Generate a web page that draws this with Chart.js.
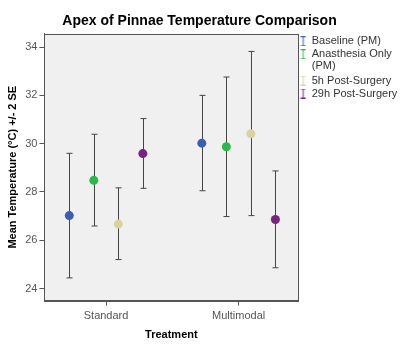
<!DOCTYPE html>
<html>
<head>
<meta charset="utf-8">
<script src="https://cdn.jsdelivr.net/npm/chart.js@4/dist/chart.umd.min.js"></script>
<style>
  body { margin: 0; background: #fff; }
  #wrap { width: 400px; height: 362px; }
</style>
</head>
<body>
<div id="wrap"><canvas id="grafica"></canvas></div>
<script>
const categories = ['Standard', 'Multimodal'];
const seriesNames = ['Baseline (PM)', ['Anasthesia Only', '(PM)'], '5h Post-Surgery', '29h Post-Surgery'];
const seriesColors = ['#3d5cb8', '#2db84a', '#d8d39b', '#7a2480'];
// mean and +/- 2 SE limits, one value per category
const means = [[27.02, 30.02], [28.48, 29.87], [26.67, 30.41], [29.59, 26.86]];
const upper = [[29.60, 32.00], [30.39, 32.76], [28.17, 33.82], [31.04, 28.87]];
const lower = [[24.44, 28.05], [26.59, 26.98], [25.20, 27.02], [28.15, 24.86]];
const yTicks = [24, 26, 28, 30, 32, 34];

const spread = 0.185;

function makeIcon(color) {
    const c = document.createElement('canvas');
    c.width = 6; c.height = 10;
    const g = c.getContext('2d');
    g.strokeStyle = color;
    g.lineWidth = 1;
    g.beginPath();
    g.moveTo(0.5, 0.5); g.lineTo(5.5, 0.5);
    g.moveTo(3, 0.5); g.lineTo(3, 9.5);
    g.moveTo(0.5, 9.5); g.lineTo(5.5, 9.5);
    g.stroke();
    return c;
}
const icons = seriesColors.map(makeIcon);

const datasets = seriesNames.map(function(name, s) {
    return {
        label: name,
        data: categories.map(function(cat, i) {
            return { x: i + 1 + (s - 1.5) * spread, y: means[s][i], hi: upper[s][i], lo: lower[s][i] };
        }),
        backgroundColor: seriesColors[s],
        borderColor: seriesColors[s],
        pointRadius: 4.5,
        pointHoverRadius: 4.5,
        borderWidth: 0,
        showLine: false
    };
});

const plotFrame = {
    id: 'plotFrame',
    beforeDatasetsDraw(chart) {
        const ctx = chart.ctx;
        const xs = chart.scales.x, ys = chart.scales.y;
        ctx.save();
        ctx.strokeStyle = '#444';
        ctx.lineWidth = 1;
        chart.data.datasets.forEach(function(ds) {
            ds.data.forEach(function(p) {
                const px = Math.round(xs.getPixelForValue(p.x)) + 0.5;
                const t = ys.getPixelForValue(p.hi), b = ys.getPixelForValue(p.lo);
                ctx.beginPath();
                ctx.moveTo(px, t); ctx.lineTo(px, b);
                ctx.moveTo(px - 3, t); ctx.lineTo(px + 3, t);
                ctx.moveTo(px - 3, b); ctx.lineTo(px + 3, b);
                ctx.stroke();
            });
        });
        ctx.restore();
    },
    beforeDraw(chart) {
        const a = chart.chartArea, ctx = chart.ctx;
        ctx.save();
        ctx.fillStyle = '#f0f0f0';
        ctx.fillRect(a.left, a.top, a.right - a.left, a.bottom - a.top);
        ctx.restore();
    },
    afterDraw(chart) {
        const a = chart.chartArea, ctx = chart.ctx;
        ctx.save();
        ctx.strokeStyle = '#555';
        ctx.lineWidth = 1;
        ctx.strokeRect(Math.round(a.left) + 0.5, Math.round(a.top) + 0.5, Math.round(a.right - a.left), Math.round(a.bottom - a.top));
        ctx.restore();
    }
};

const ctx = document.getElementById('grafica').getContext('2d');
const ch = new Chart(ctx, {
    type: 'scatter',
    data: { datasets: datasets },
    plugins: [plotFrame],
    options: {
        responsive: true,
        maintainAspectRatio: false,
        animation: false,
        layout: { padding: { top: 3, right: 3, bottom: 16, left: 2 } },
        plugins: {
            title: {
                display: true,
                text: 'Apex of Pinnae Temperature Comparison',
                color: '#000',
                font: { family: 'Liberation Sans', size: 14, weight: 'bold' },
                padding: { top: 10, bottom: 4 }
            },
            legend: {
                position: 'right',
                align: 'start',
                fullSize: false,
                labels: {
                    usePointStyle: true,
                    boxWidth: 6,
                    padding: 2,
                    color: '#333',
                    font: { family: 'Liberation Sans', size: 11, lineHeight: 1.1 },
                    generateLabels: function(chart) {
                        return chart.data.datasets.map(function(ds, i) {
                            return { text: ds.label, pointStyle: icons[i], fillStyle: seriesColors[i], strokeStyle: seriesColors[i], lineWidth: 0, datasetIndex: i, fontColor: '#333' };
                        });
                    }
                }
            },
            tooltip: { enabled: false }
        },
        scales: {
            x: {
                type: 'linear',
                min: 0.535,
                max: 2.45,
                afterBuildTicks: function(axis) {
                    axis.ticks = categories.map(function(c, i) { return { value: i + 1 }; });
                },
                ticks: {
                    color: '#555',
                    font: { family: 'Liberation Sans', size: 11 },
                    padding: 4,
                    callback: function(value) { return categories[value - 1]; }
                },
                grid: { drawOnChartArea: false, tickLength: 5, color: '#555' },
                border: { color: '#555' },
                title: {
                    display: true,
                    text: 'Treatment',
                    color: '#000',
                    font: { family: 'Liberation Sans', size: 11, weight: 'bold' },
                    padding: { top: 2 }
                }
            },
            y: {
                min: 23.5,
                max: 34.55,
                afterBuildTicks: function(axis) {
                    axis.ticks = yTicks.map(function(v) { return { value: v }; });
                },
                ticks: {
                    color: '#555',
                    font: { family: 'Liberation Sans', size: 11 },
                    padding: 2
                },
                grid: { drawOnChartArea: false, tickLength: 5, color: '#555' },
                border: { color: '#555' },
                title: {
                    display: true,
                    text: 'Mean Temperature (°C) +/- 2 SE',
                    color: '#000',
                    font: { family: 'Liberation Sans', size: 11, weight: 'bold' },
                    padding: { bottom: 4 }
                }
            }
        }
    }
});
</script>
</body>
</html>
